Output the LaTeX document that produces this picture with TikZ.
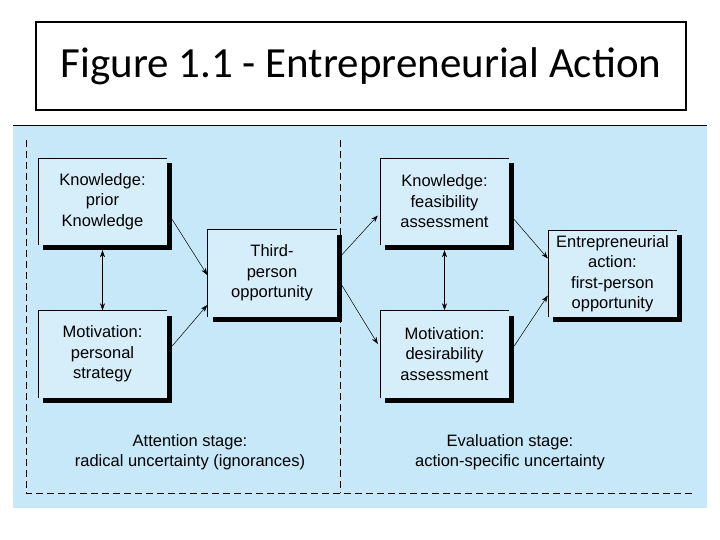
\documentclass[tikz,border=0pt]{standalone}
\usepackage{fontspec}
\setmainfont{Liberation Sans}
\newfontfamily\titlefont{Carlito}
\usetikzlibrary{arrows.meta}
\definecolor{panel}{RGB}{198,232,248}
\definecolor{boxfill}{RGB}{214,238,250}
\tikzset{
  bx/.style={minimum width=129pt,minimum height=87pt,inner sep=0pt,fill=boxfill,align=center,font=\fontsize{16.5}{20.5}\selectfont},
  arr/.style={-{Stealth[length=7pt,width=5pt]},line width=0.5pt},
  dbl/.style={{Stealth[length=7pt,width=5pt]}-{Stealth[length=7pt,width=5pt]},line width=0.6pt},
  dsh/.style={dash pattern=on 7pt off 4pt,line width=0.5pt},
}
\newcommand{\shbox}[4]{% name, center x, center y, text
  \fill (#2pt+5pt,-#3pt-5pt) +(-64.5pt,-43.5pt) rectangle +(64.5pt,43.5pt);
  \node[bx] (#1) at (#2pt,-#3pt) {#4};
  \draw[line width=0.4pt] (#1.south west) -- (#1.north west) -- (#1.north east);
}
\begin{document}
\begin{tikzpicture}
\useasboundingbox (0,0) rectangle (720pt,-540pt);
\fill[white] (0,0) rectangle (720pt,-540pt);
\node[draw,line width=2pt,minimum width=650pt,minimum height=88pt,font=\titlefont\fontsize{43}{46}\selectfont] (title) at (361pt,-66pt) {Figure 1.1 - Entrepreneurial Action};
\fill[panel] (13pt,-125pt) rectangle (707pt,-508pt);
\draw[line width=0.6pt] (13pt,-125pt) -- (707pt,-125pt);
\coordinate (dl1) at (26pt,-140pt); \coordinate (dl2) at (26pt,-493pt);
\coordinate (dr) at (693pt,-493pt);
\coordinate (dm1) at (340pt,-140pt); \coordinate (dm2) at (340pt,-493pt);
\draw[dsh] (dl1) -- (dl2) -- (dr);
\draw[dsh] (dm1) -- (dm2);
\shbox{k1}{102.5}{201.5}{Knowledge:\\prior\\Knowledge}
\shbox{m1}{102.5}{354}{Motivation:\\personal\\strategy}
\shbox{tp}{272}{273}{Third-\\person\\opportunity}
\shbox{k2}{444.5}{201.5}{Knowledge:\\feasibility\\assessment}
\shbox{m2}{444.5}{354}{Motivation:\\desirability\\assessment}
\shbox{ea}{612.5}{273.5}{Entrepreneurial\\action:\\first-person\\opportunity}
\draw[dbl] ([yshift=-5pt]k1.south) -- (m1.north);
\draw[dbl] ([yshift=-5pt]k2.south) -- (m2.north);
\draw[arr] ([xshift=5pt,yshift=-18pt]k1.east) -- ([yshift=-2pt]tp.west);
\draw[arr] ([xshift=5pt,yshift=8pt]m1.east) -- ([yshift=-32pt]tp.west);
\draw[arr] ([xshift=5pt,yshift=18pt]tp.east) -- ([xshift=-2pt,yshift=-14pt]k2.west);
\draw[arr] ([xshift=5pt,yshift=-12pt]tp.east) -- ([xshift=-2pt,yshift=10pt]m2.west);
\draw[arr] ([xshift=5pt,yshift=-18pt]k2.east) -- ([yshift=15pt]ea.west);
\draw[arr] ([xshift=5pt,yshift=8pt]m2.east) -- ([yshift=-22pt]ea.west);
\node[align=center,font=\fontsize{16.5}{20.5}\selectfont] (att) at (190pt,-452pt) {Attention stage:\\radical uncertainty (ignorances)};
\node[align=center,font=\fontsize{16.5}{20.5}\selectfont] (eva) at (510pt,-452pt) {Evaluation stage:\\action-specific uncertainty};
\end{tikzpicture}
\end{document}
